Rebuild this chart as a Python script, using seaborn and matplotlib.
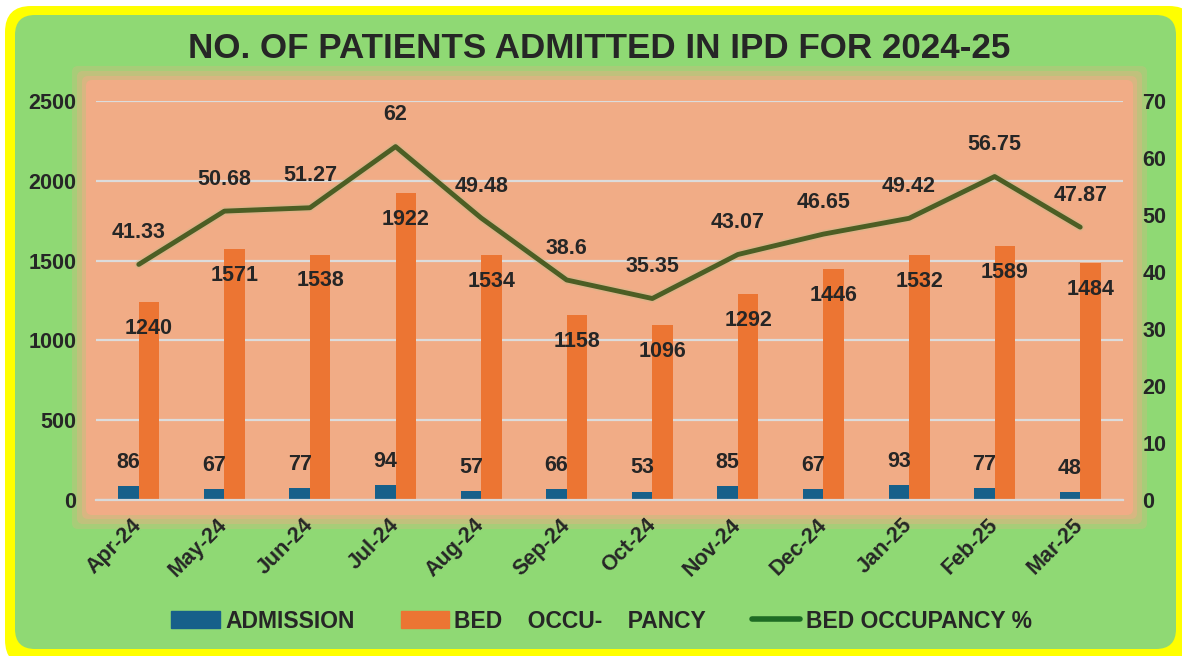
import numpy as np
import pandas as pd
import matplotlib
matplotlib.use("Agg")
import matplotlib.pyplot as plt
import matplotlib.patches as mpatches
import matplotlib.patheffects as pe
from matplotlib.lines import Line2D
from matplotlib.ticker import FixedLocator
import seaborn as sns

months = ["Apr-24", "May-24", "Jun-24", "Jul-24", "Aug-24", "Sep-24",
          "Oct-24", "Nov-24", "Dec-24", "Jan-25", "Feb-25", "Mar-25"]
admission = [86, 67, 77, 94, 57, 66, 53, 85, 67, 93, 77, 48]
bed_occupancy = [1240, 1571, 1538, 1922, 1534, 1158, 1096, 1292, 1446, 1532, 1589, 1484]
occupancy_pct = [41.33, 50.68, 51.27, 62, 49.48, 38.6, 35.35, 43.07, 46.65, 49.42, 56.75, 47.87]
pct_labels = ["41.33", "50.68", "51.27", "62", "49.48", "38.6", "35.35", "43.07",
              "46.65", "49.42", "56.75", "47.87"]

BLUE, ORANGE, LINE = "#17608A", "#EC7533", "#4C5E24"
GREEN_BG, PEACH, YELLOW = "#8FD974", "#F1AC86", "#FFFF00"

sns.set_theme(style="white")
plt.rcParams["font.family"] = ["Liberation Sans", "DejaVu Sans"]
plt.rcParams["font.weight"] = "bold"

W, H = 1182, 656
fig = plt.figure(figsize=(W / 100, H / 100), dpi=100)
fig.patch.set_facecolor("white")

# background frame drawn in pixel units
bg = fig.add_axes([0, 0, 1, 1], zorder=-10)
bg.set_xlim(0, W)
bg.set_ylim(H, 0)
bg.axis("off")
bg.add_patch(mpatches.FancyBboxPatch((5, 6), 1190, 660, boxstyle="round,pad=0,rounding_size=26",
                                     fc=YELLOW, ec="none"))
bg.add_patch(mpatches.FancyBboxPatch((15, 15), 1161, 634, boxstyle="round,pad=0,rounding_size=20",
                                     fc=GREEN_BG, ec="none"))
# soft-edged plot area
for grow, alpha in [(14, 0.25), (9, 0.35), (4, 0.5), (0, 1.0)]:
    bg.add_patch(mpatches.FancyBboxPatch((86 - grow, 80 - grow), 1047 + 2 * grow, 435 + 2 * grow,
                                         boxstyle="round,pad=0,rounding_size=6",
                                         fc=PEACH, ec="none", alpha=alpha))

df = pd.DataFrame({
    "month": months * 2,
    "series": ["ADMISSION"] * 12 + ["BED OCCUPANCY"] * 12,
    "value": admission + bed_occupancy,
})

ax = fig.add_axes([96 / W, 1 - 500 / H, 1027 / W, 399 / H])
ax.set_facecolor("none")
sns.barplot(data=df, x="month", y="value", hue="series", palette=[BLUE, ORANGE],
            width=0.48, saturation=1, legend=False, ax=ax, edgecolor="none")
ax.set_xlim(-0.5, 11.5)
ax.set_ylim(0, 2500)
ax.set_yticks(range(0, 2501, 500))
ax.grid(axis="y", color="#DCDCDC", linewidth=1.6)
ax.set_axisbelow(True)
ax.set_xlabel("")
ax.set_ylabel("")
for s in ["top", "right", "left"]:
    ax.spines[s].set_visible(False)
ax.spines["bottom"].set_color("#D9D9D9")
ax.spines["bottom"].set_linewidth(1.6)
ax.tick_params(axis="y", length=0, pad=14, labelsize=15.5)
ax.set_xticks(range(12))
ax.set_xticklabels(months, rotation=45, ha="right", va="center", rotation_mode="anchor", fontsize=15.5)
ax.tick_params(axis="x", which="major", length=0, pad=16)
ax.xaxis.set_minor_locator(FixedLocator(np.arange(-0.5, 12, 1)))
ax.tick_params(axis="x", which="minor", length=7, width=1.6, color="#D9D9D9")

for bar, v in zip(ax.containers[0], admission):
    ax.annotate(str(v), (bar.get_x() + bar.get_width() / 2, v), xytext=(0, 17),
                textcoords="offset points", ha="center", va="center", fontsize=15.5, fontweight="bold")
for bar, v in zip(ax.containers[1], bed_occupancy):
    ax.annotate(str(v), (bar.get_x() + bar.get_width() / 2, v), xytext=(0, -19),
                textcoords="offset points", ha="center", va="center", fontsize=15.5, fontweight="bold")

ax2 = ax.twinx()
sns.lineplot(x=np.arange(12), y=occupancy_pct, color=LINE, linewidth=3.5, ax=ax2,
             path_effects=[pe.Stroke(linewidth=6, foreground="#C9B98A", alpha=0.45), pe.Normal()])
ax2.set_xlim(-0.5, 11.5)
ax2.set_ylim(0, 70)
ax2.set_yticks(range(0, 71, 10))
ax2.tick_params(axis="y", length=0, pad=14, labelsize=15.5)
for s in ax2.spines.values():
    s.set_visible(False)
ax2.set_ylabel("")
for i, (v, lab) in enumerate(zip(occupancy_pct, pct_labels)):
    ax2.annotate(lab, (i, v), xytext=(0, 23), textcoords="offset points",
                 ha="center", va="center", fontsize=15.5, fontweight="bold")

fig.text(0.507, 1 - 48 / H, "NO. OF PATIENTS ADMITTED IN IPD FOR 2024-25",
         ha="center", va="center", fontsize=25.2, fontweight="bold")

handles = [mpatches.Patch(color=BLUE, label="ADMISSION"),
           mpatches.Patch(color=ORANGE, label="BED    OCCU-    PANCY"),
           Line2D([], [], color="#1E6B24", linewidth=4, solid_capstyle="round", label="BED OCCUPANCY %")]
fig.legend(handles=handles, loc="center", bbox_to_anchor=(0.509, 1 - 621 / H), ncol=3,
           frameon=False, fontsize=16.5, handlelength=2.1, handletextpad=0.25, columnspacing=2.0)

fig.savefig("out.png", dpi=100)
